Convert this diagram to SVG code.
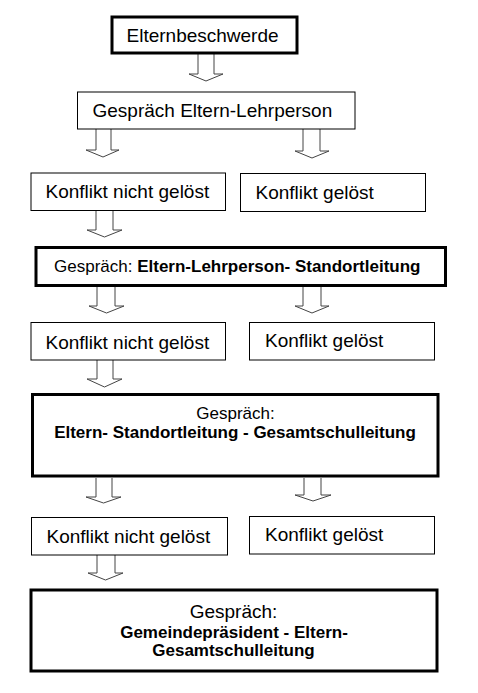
<svg xmlns="http://www.w3.org/2000/svg" width="478" height="693" viewBox="0 0 478 693">
<style>
.bx{fill:#fff;stroke:#000;stroke-width:1}
.tk{fill:#fff;stroke:#000;stroke-width:3}
.t{font-family:"Liberation Sans",Arial,sans-serif;font-size:19px;fill:#000}
.s{font-family:"Liberation Sans",Arial,sans-serif;font-size:17px;fill:#000}
.b{font-weight:bold}
.ar{fill:#fff;stroke:#444;stroke-width:1;stroke-linejoin:miter}
</style>
<rect width="478" height="693" fill="#fff"/>
<g id="connectors">
<path class="ar" d="M198,54 L198,74 L189,74 L206,81 L223,74 L214,74 L214,54"/>
<path class="ar" d="M96,129 L96,150 L86,150 L103,157 L119,150 L111,150 L111,129"/>
<path class="ar" d="M303,129 L303,151 L295,151 L312,158 L329,151 L320,151 L320,129"/>
<path class="ar" d="M96,211 L96,230 L87,230 L104.5,237 L122,230 L113,230 L113,211"/>
<path class="ar" d="M97,287 L97,306 L89,306 L106.5,313 L124,306 L115,306 L115,287"/>
<path class="ar" d="M303,287 L303,306 L295,306 L312,313 L329,306 L321,306 L321,287"/>
<path class="ar" d="M97,360 L97,379 L87,379 L104.5,387 L122,379 L113,379 L113,360"/>
<path class="ar" d="M96,478 L96,497 L86,497 L103.5,503 L121,497 L112,497 L112,478"/>
<path class="ar" d="M304,478 L304,495 L295,495 L313,501 L331,495 L321,495 L321,478"/>
<path class="ar" d="M97,555 L97,573 L88,573 L105.5,580 L123,573 L115,573 L115,555"/>
</g>
<g id="n1"><rect class="tk" x="112" y="17" width="185" height="36"/><text class="t" x="126.5" y="42">Elternbeschwerde</text></g>
<g id="n2"><rect class="bx" x="77.5" y="92" width="277.5" height="37"/><text class="t" x="92.5" y="117">Gespräch Eltern-Lehrperson</text></g>
<g id="n3"><rect class="bx" x="31" y="173" width="194.5" height="37.5"/><text class="t" x="45.5" y="197.5">Konflikt nicht gelöst</text></g>
<g id="n4"><rect class="bx" x="240.5" y="173.5" width="185" height="38"/><text class="t" x="255.5" y="198.5">Konflikt gelöst</text></g>
<g id="n5"><rect class="tk" x="36" y="247.5" width="409.5" height="38"/><text class="s" x="54" y="272">Gespräch: <tspan class="b">Eltern-Lehrperson- Standortleitung</tspan></text></g>
<g id="n6"><rect class="bx" x="31" y="322.5" width="194.5" height="37.5"/><text class="t" x="45.5" y="348.5">Konflikt nicht gelöst</text></g>
<g id="n7"><rect class="bx" x="249.5" y="322.5" width="185" height="37.5"/><text class="t" x="265" y="347">Konflikt gelöst</text></g>
<g id="n8"><rect class="tk" x="32.5" y="394.5" width="405.5" height="81.5"/><text class="s" x="235.5" y="418.5" text-anchor="middle">Gespräch:</text><text class="s b" x="235" y="438" text-anchor="middle">Eltern- Standortleitung - Gesamtschulleitung</text></g>
<g id="n9"><rect class="bx" x="31.5" y="517.5" width="196" height="37.5"/><text class="t" x="46.5" y="542.5">Konflikt nicht gelöst</text></g>
<g id="n10"><rect class="bx" x="249.5" y="516.5" width="185" height="37.5"/><text class="t" x="265" y="541">Konflikt gelöst</text></g>
<g id="n11"><rect class="tk" x="31" y="590" width="406" height="81"/><text class="t" x="233.5" y="618" text-anchor="middle">Gespräch:</text><text class="s b" x="234" y="638" text-anchor="middle">Gemeindepräsident - Eltern-</text><text class="s b" x="233.5" y="656" text-anchor="middle">Gesamtschulleitung</text></g>
</svg>
